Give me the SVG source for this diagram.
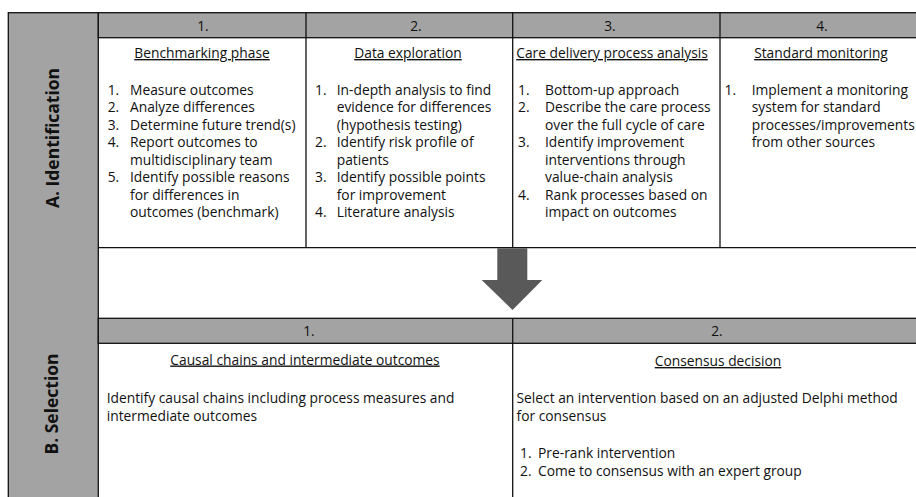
<svg xmlns="http://www.w3.org/2000/svg" width="916" height="497" viewBox="0 0 916 497">
<style>
.t{font-family:"Open Sans","Noto Sans","Liberation Sans",sans-serif;font-size:13.8px;fill:#111}
.h{text-anchor:middle}
.u{text-anchor:middle;text-decoration:underline}
.v{font-family:"Open Sans","Noto Sans","Liberation Sans",sans-serif;font-size:17.5px;font-weight:bold;fill:#111;text-anchor:middle}
.g{fill:#a3a3a3;stroke:#111;stroke-width:1.3}
.ln{stroke:#111;stroke-width:1.3;fill:none}
</style>
<rect width="916" height="497" fill="#fff"/>
<g id="sideA">
<rect class="g" x="8.3" y="12.7" width="90" height="490"/>
<text class="v" transform="translate(59,138) rotate(-90)">A. Identification</text>
<text class="v" transform="translate(58,404) rotate(-90)">B. Selection</text>
</g>
<g id="headerA">
<rect class="g" x="98.3" y="12.7" width="830" height="25"/>
<text class="t h" x="203" y="30.5">1.</text>
<text class="t h" x="416" y="30.5">2.</text>
<text class="t h" x="610" y="30.5">3.</text>
<text class="t h" x="822" y="30.5">4.</text>
</g>
<g id="gridA">
<line class="ln" x1="306" y1="12.7" x2="306" y2="247.7"/>
<line class="ln" x1="512.7" y1="12.7" x2="512.7" y2="247.7"/>
<line class="ln" x1="720" y1="12.7" x2="720" y2="247.7"/>
<line class="ln" x1="98.3" y1="247.7" x2="930" y2="247.7"/>
</g>
<g id="a1">
<text class="t u" x="202" y="58">Benchmarking phase</text>
<text class="t" x="107.7" y="94.5">1.</text><text class="t" x="130" y="94.5">Measure outcomes</text>
<text class="t" x="107.7" y="112">2.</text><text class="t" x="130" y="112">Analyze differences</text>
<text class="t" x="107.7" y="129.5">3.</text><text class="t" x="130" y="129.5">Determine future trend(s)</text>
<text class="t" x="107.7" y="147">4.</text><text class="t" x="130" y="147">Report outcomes to</text>
<text class="t" x="130" y="164.5">multidisciplinary team</text>
<text class="t" x="107.7" y="182">5.</text><text class="t" x="130" y="182">Identify possible reasons</text>
<text class="t" x="130" y="199.5">for differences in</text>
<text class="t" x="130" y="217">outcomes (benchmark)</text>
</g>
<g id="a2">
<text class="t u" x="408" y="58">Data exploration</text>
<text class="t" x="315" y="94.5">1.</text><text class="t" x="336.7" y="94.5">In-depth analysis to find</text>
<text class="t" x="336.7" y="112">evidence for differences</text>
<text class="t" x="336.7" y="129.5">(hypothesis testing)</text>
<text class="t" x="315" y="147">2.</text><text class="t" x="336.7" y="147">Identify risk profile of</text>
<text class="t" x="336.7" y="164.5">patients</text>
<text class="t" x="315" y="182">3.</text><text class="t" x="336.7" y="182">Identify possible points</text>
<text class="t" x="336.7" y="199.5">for improvement</text>
<text class="t" x="315" y="217">4.</text><text class="t" x="336.7" y="217">Literature analysis</text>
</g>
<g id="a3">
<text class="t u" x="612" y="58">Care delivery process analysis</text>
<text class="t" x="518" y="94.5">1.</text><text class="t" x="545" y="94.5">Bottom-up approach</text>
<text class="t" x="518" y="112">2.</text><text class="t" x="545" y="112">Describe the care process</text>
<text class="t" x="545" y="129.5">over the full cycle of care</text>
<text class="t" x="518" y="147">3.</text><text class="t" x="545" y="147">Identify improvement</text>
<text class="t" x="545" y="164.5">interventions through</text>
<text class="t" x="545" y="182">value-chain analysis</text>
<text class="t" x="518" y="199.5">4.</text><text class="t" x="545" y="199.5">Rank processes based on</text>
<text class="t" x="545" y="217">impact on outcomes</text>
</g>
<g id="a4">
<text class="t u" x="821" y="58">Standard monitoring</text>
<text class="t" x="724.5" y="94.5">1.</text><text class="t" x="751.7" y="94.5">Implement a monitoring</text>
<text class="t" x="751.7" y="112">system for standard</text>
<text class="t" x="751.7" y="129.5">processes/improvements</text>
<text class="t" x="751.7" y="147">from other sources</text>
</g>
<g id="connectors">
<polygon points="497.3,248.3 527.3,248.3 527.3,280 542.3,280 512.5,310 481.7,280 497.3,280" fill="#595959"/>
</g>
<g id="headerB">
<rect class="g" x="98.3" y="318.3" width="830" height="25"/>
<line class="ln" x1="512.7" y1="318.3" x2="512.7" y2="500"/>
<text class="t h" x="309" y="336">1.</text>
<text class="t h" x="717" y="336">2.</text>
</g>
<g id="b1">
<text class="t u" x="305" y="364.5">Causal chains and intermediate outcomes</text>
<text class="t" x="106.7" y="402.5">Identify causal chains including process measures and</text>
<text class="t" x="106.7" y="420.5">intermediate outcomes</text>
</g>
<g id="b2">
<text class="t u" x="718" y="366">Consensus decision</text>
<text class="t" x="516.5" y="402.5">Select an intervention based on an adjusted Delphi method</text>
<text class="t" x="516.5" y="421">for consensus</text>
<text class="t" x="520" y="457.5">1.</text><text class="t" x="538" y="457.5">Pre-rank intervention</text>
<text class="t" x="520" y="476">2.</text><text class="t" x="538" y="476">Come to consensus with an expert group</text>
</g>
</svg>
